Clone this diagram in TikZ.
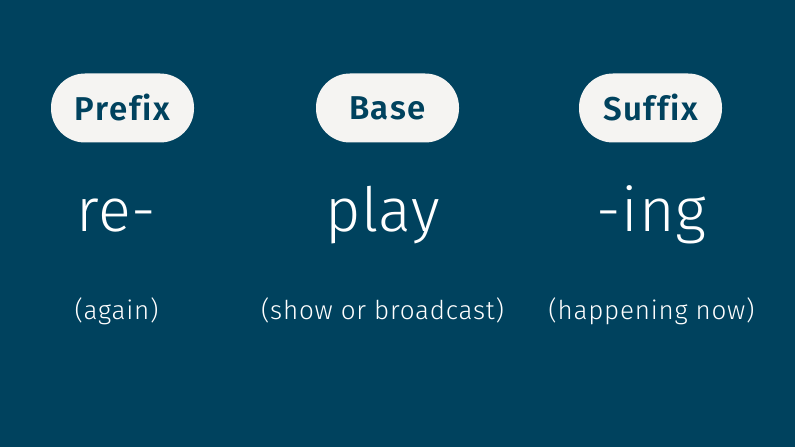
\documentclass[tikz,border=0pt]{standalone}
\usepackage{fontspec}
\setmainfont{Fira Sans}
\newfontfamily\lightfont{Fira Sans Light}[LetterSpace=1,Ligatures=NoCommon]
\newfontfamily\glossfont{Fira Sans Light}[LetterSpace=3,Ligatures=NoCommon]
\newfontfamily\semifont{Fira Sans SemiBold}[LetterSpace=5,Ligatures=NoCommon]
\usetikzlibrary{positioning}
\definecolor{navy}{HTML}{00425E}
\definecolor{chalk}{HTML}{F5F4F2}

\begin{document}
\begin{tikzpicture}[x=1pt,y=1pt,node distance=265pt,
    pill/.style={rectangle,rounded corners=34pt,fill=chalk,text=navy,
      font=\semifont\fontsize{33}{33}\selectfont,minimum width=143pt,minimum height=69pt},
    word/.style={text=white,inner sep=0pt,font=\lightfont\fontsize{61}{61}\selectfont},
    gloss/.style={text=white,inner sep=0pt,font=\glossfont\fontsize{26}{26}\selectfont}]

  \fill[navy] (0,0) rectangle (795,447);

  \node[pill] (PRE) at (122.5,339) {Prefix};
  \node[pill] (BASE) [right of=PRE] {Base};
  \node[pill] (SUF) [right of=BASE, node distance=263pt] {Suffix};

  \node[word] (RE) [below of=PRE, node distance=124pt, anchor=base, xshift=-6pt] {re-};
  \node[word] (PLAY) [below of=BASE, node distance=124pt, anchor=base, xshift=-5pt] {play};
  \node[word] (ING) [below of=SUF, node distance=124pt, anchor=base, xshift=1pt] {-ing};

  \node[gloss] (AGAIN) [below of=PRE, node distance=212pt, anchor=base, xshift=-6pt] {(again)};
  \node[gloss] (SHOW) [below of=BASE, node distance=212pt, anchor=base, xshift=-5pt] {(show or broadcast)};
  \node[gloss] (NOW) [below of=SUF, node distance=212pt, anchor=base, xshift=1pt] {(happening now)};
\end{tikzpicture}
\end{document}
